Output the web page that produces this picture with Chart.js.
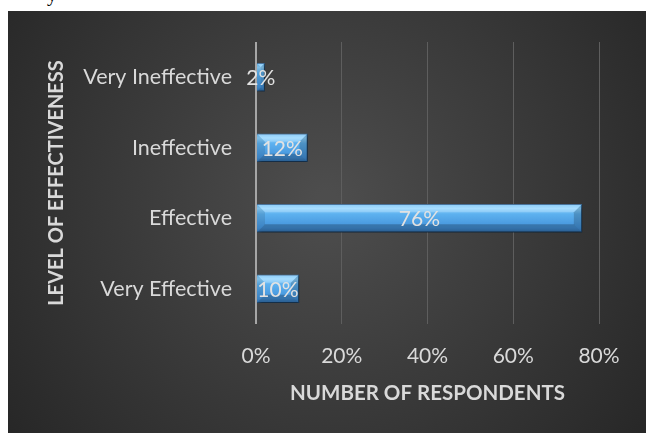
<!DOCTYPE html>
<html>
<head>
<meta charset="utf-8">
<script src="https://cdn.jsdelivr.net/npm/chart.js@4"></script>
<style>
  body { margin: 0; background: #fff; width: 646px; height: 433px; overflow: hidden; position: relative; }
  #wrap { position: absolute; left: 8px; top: 11px; width: 638px; height: 422px; }
  #cut { position: absolute; left: 47px; top: -17px; font: 20px "Liberation Serif"; color: #000; }
</style>
</head>
<body>
<span id="cut">y</span>
<div id="wrap"><canvas id="myChart"></canvas></div>
<script>
// chart data
let levels = ['Very Ineffective', 'Ineffective', 'Effective', 'Very Effective'];
let percents = [2, 12, 76, 10];
let xticks = [0, 20, 40, 60, 80];

let font = 'Lato';
let textcolor = '#d9d9d9';
let thick = 28;

// dark radial background, bar shadow, bevels and value labels
let bgplugin = {
  id: 'bg',
  beforeDraw(chart) {
    let c = chart.ctx;
    let w = chart.width, h = chart.height;
    let g = c.createRadialGradient(w * 0.5, h * 0.45, 10, w * 0.5, h * 0.45, w * 0.62);
    g.addColorStop(0, '#4d4d4d');
    g.addColorStop(1, '#272727');
    c.save();
    c.fillStyle = g;
    c.fillRect(0, 0, w, h);
    c.restore();
  },
  beforeDatasetsDraw(chart) {
    let c = chart.ctx;
    c.save();
    c.shadowColor = 'rgba(0,0,0,0.55)';
    c.shadowBlur = 4;
    c.shadowOffsetX = 2;
    c.shadowOffsetY = 2;
  },
  afterDatasetsDraw(chart) {
    let c = chart.ctx;
    c.restore();
    let meta = chart.getDatasetMeta(0);
    // bevel edges on each bar
    meta.data.forEach(function (bar) {
      let x0 = bar.base, x1 = bar.x;
      let y0 = bar.y - thick / 2, y1 = bar.y + thick / 2;
      let b = Math.min(8, (x1 - x0) / 2);
      function poly(pts, col) {
        c.beginPath();
        c.moveTo(pts[0][0], pts[0][1]);
        for (let k = 1; k < pts.length; k++) c.lineTo(pts[k][0], pts[k][1]);
        c.closePath();
        c.fillStyle = col;
        c.fill();
      }
      c.save();
      poly([[x0, y0], [x1, y0], [x1 - b, y0 + b], [x0 + b, y0 + b]], 'rgba(255,255,255,0.22)');
      poly([[x0, y0], [x0 + b, y0 + b], [x0 + b, y1 - b], [x0, y1]], 'rgba(0,0,0,0.10)');
      poly([[x1, y0], [x1, y1], [x1 - b, y1 - b], [x1 - b, y0 + b]], 'rgba(0,0,0,0.18)');
      poly([[x0, y1], [x0 + b, y1 - b], [x1 - b, y1 - b], [x1, y1]], 'rgba(0,0,0,0.22)');
      c.restore();
    });
    // value labels in the middle of each bar
    c.save();
    c.font = '21px ' + font;
    c.fillStyle = '#e2e2e2';
    c.textAlign = 'center';
    c.textBaseline = 'middle';
    meta.data.forEach(function (bar, i) {
      let cx = (bar.x + bar.base) / 2;
      c.fillText(percents[i] + '%', cx, bar.y + 1);
    });
    c.restore();
  }
};

function barfill(ctx) {
  let chart = ctx.chart;
  let ys = chart.scales.y;
  if (!ys || ys.top === undefined) return '#4a9be0';
  let yc = ys.getPixelForValue(ctx.dataIndex);
  let g = chart.ctx.createLinearGradient(0, yc - thick / 2, 0, yc + thick / 2);
  g.addColorStop(0, '#6bbdf5');
  g.addColorStop(0.15, '#8fd4ff');
  g.addColorStop(0.35, '#5db1ef');
  g.addColorStop(0.85, '#4392da');
  g.addColorStop(1, '#3577b8');
  return g;
}

let ctx = document.getElementById('myChart').getContext('2d');
let chart = new Chart(ctx, {
  type: 'bar',
  data: {
    labels: levels,
    datasets: [{
      label: 'Respondents',
      data: percents,
      backgroundColor: barfill,
      borderColor: '#2a5f92',
      borderWidth: 1,
      barThickness: thick
    }]
  },
  options: {
    indexAxis: 'y',
    responsive: true,
    maintainAspectRatio: false,
    animation: false,
    layout: { padding: { left: 0, top: 31, right: 47, bottom: 0 } },
    plugins: {
      legend: { display: false },
      tooltip: { enabled: false }
    },
    scales: {
      x: {
        min: 0,
        max: 80,
        afterBuildTicks: function (scale) {
          scale.ticks = xticks.map(function (v) { return { value: v }; });
        },
        afterFit: function (scale) { scale.height = 109; },
        border: { display: false },
        grid: {
          drawTicks: false,
          color: function (c) { return c.index === 0 ? '#a6a6a6' : '#5e5e5e'; },
          lineWidth: function (c) { return c.index === 0 ? 2 : 1; }
        },
        ticks: {
          color: textcolor,
          font: { family: font, size: 21 },
          padding: 20,
          callback: function (v) { return v + '%'; }
        },
        title: {
          display: true,
          text: 'NUMBER OF RESPONDENTS',
          color: textcolor,
          font: { family: font, size: 20.5, weight: 'bold' },
          padding: { top: 0, bottom: 27 }
        }
      },
      y: {
        afterFit: function (scale) { scale.width = 248; },
        border: { display: false },
        grid: { display: false },
        ticks: {
          color: textcolor,
          font: { family: font, size: 21.5 },
          padding: 16
        },
        title: {
          display: true,
          text: 'LEVEL OF EFFECTIVENESS',
          color: textcolor,
          font: { family: font, size: 20, weight: 'bold' },
          padding: { top: 37, bottom: 0 }
        }
      }
    }
  },
  plugins: [bgplugin]
});
</script>
</body>
</html>
